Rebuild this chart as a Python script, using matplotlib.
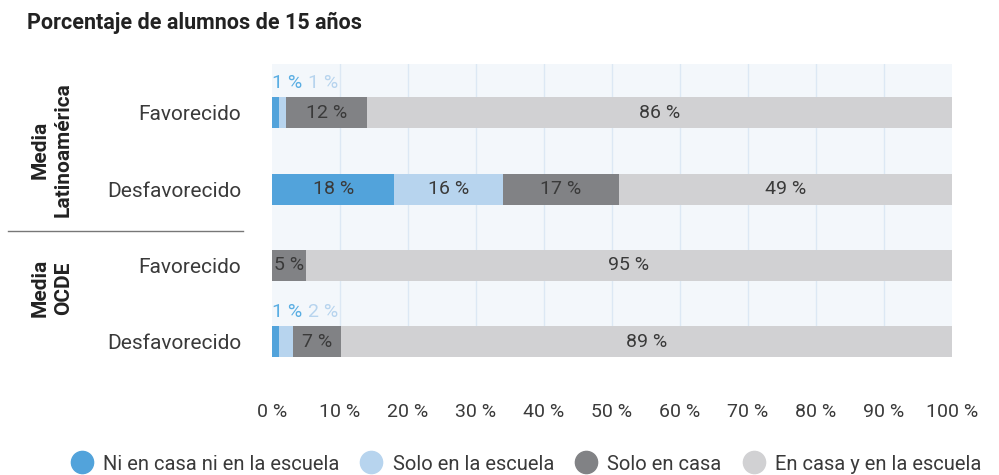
import matplotlib.pyplot as plt
from matplotlib.lines import Line2D

plt.rcParams['font.family'] = ['Roboto', 'DejaVu Sans']

# datos
filas = ['Favorecido', 'Desfavorecido', 'Favorecido', 'Desfavorecido']
grupos = ['Media\nLatinoamérica', 'Media\nOCDE']
series = ['Ni en casa ni en la escuela', 'Solo en la escuela', 'Solo en casa', 'En casa y en la escuela']
ni_casa_ni_escuela = [1, 18, 0, 1]
solo_escuela = [1, 16, 0, 2]
solo_casa = [12, 17, 5, 7]
casa_y_escuela = [86, 49, 95, 89]
ticks = [0, 10, 20, 30, 40, 50, 60, 70, 80, 90, 100]

colores = ['#52a3db', '#b7d4ee', '#818285', '#d1d1d3']
texto = '#3a3a3a'

fig = plt.figure(figsize=(9.99, 4.75), dpi=100)
ax = fig.add_axes([0.2723, 0.2484, 0.6807, 0.6168])
ax.set_facecolor('#f3f7fb')

for t in ticks[1:-1]:
    ax.axvline(t, color='#dce8f4', lw=1, zorder=0)

y = list(range(len(filas)))
valores = [ni_casa_ni_escuela, solo_escuela, solo_casa, casa_y_escuela]
# los porcentajes están redondeados: se escala cada fila a 100 %
totales = [sum(col) for col in zip(*valores)]
izq = [0] * len(filas)
for serie, col in zip(valores, colores):
    anchos = [v * 100 / t for v, t in zip(serie, totales)]
    ax.barh(y, anchos, left=izq, height=0.405, color=col, zorder=2)
    for i, v in enumerate(serie):
        if v >= 5:
            ax.text(izq[i] + anchos[i] / 2, i, f'{v} %', ha='center', va='center',
                    fontsize=14, color=texto, zorder=3)
    izq = [a + b for a, b in zip(izq, anchos)]

# etiquetas pequeñas encima de la barra
for i in y:
    if 0 < ni_casa_ni_escuela[i] < 5:
        ax.text(0, i - 0.39, f'{ni_casa_ni_escuela[i]} %', ha='left', va='center',
                fontsize=14, color='#5aaee3')
        ax.text(5.3, i - 0.39, f'{solo_escuela[i]} %', ha='left', va='center',
                fontsize=14, color=colores[1])

ax.set_xlim(0, 100)
ax.set_ylim(3.2, -0.64)
ax.set_xticks(ticks)
ax.set_xticklabels([f'{t} %' for t in ticks])
ax.set_yticks(y)
ax.set_yticklabels(filas)
ax.tick_params(axis='x', length=0, pad=33, labelsize=14, colors=texto)
ax.tick_params(axis='y', length=0, pad=22, labelsize=15, colors=texto)
for s in ax.spines.values():
    s.set_visible(False)

# grupos
fig.text(0.052, 1 - 150 / 475, grupos[0], rotation=90, ha='center', va='center',
         fontsize=15, fontweight='bold', color='#222222', linespacing=1.25)
fig.text(0.052, 1 - 288 / 475, grupos[1], rotation=90, ha='center', va='center',
         fontsize=15, fontweight='bold', color='#222222', linespacing=1.25)
fig.add_artist(Line2D([0.008, 0.243], [1 - 231 / 475] * 2, color='#777777', lw=1))

fig.text(0.027, 1 - 23 / 475, 'Porcentaje de alumnos de 15 años', ha='left', va='center',
         fontsize=15.5, fontweight='semibold', color='#222222')

handles = [Line2D([], [], marker='o', ls='', markersize=16, color=c) for c in colores]
fig.legend(handles, series, loc='lower center', bbox_to_anchor=(0.522, -0.035), ncol=4,
           frameon=False, handletextpad=0.05, columnspacing=0.6,
           labelcolor=texto, prop={'size': 14.5})

fig.savefig('out.png', dpi=100)
